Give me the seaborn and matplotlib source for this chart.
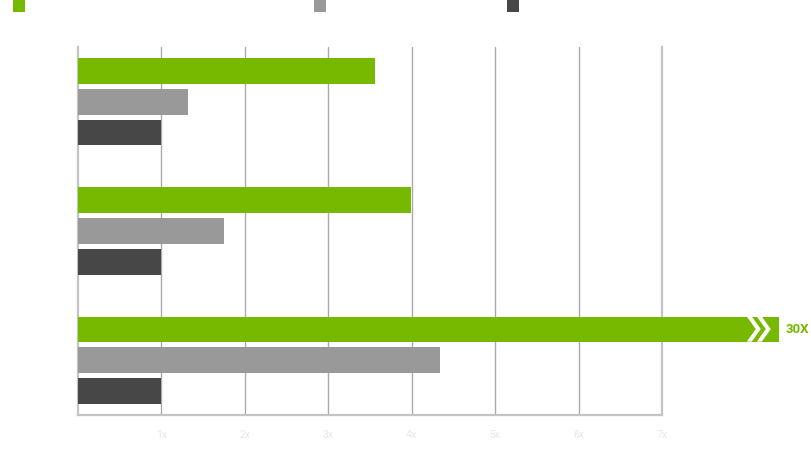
import numpy as np
import pandas as pd
import seaborn as sns
from matplotlib import pyplot as plt
from matplotlib.patches import Rectangle, Polygon

# data
workloads = ["Workload A", "Workload B", "Workload C"]
systems = ["New GPU", "Previous GPU", "Baseline"]
speedup_new = [3.56, 3.99, 30.0]
speedup_prev = [1.32, 1.75, 4.34]
speedup_base = [1.0, 1.0, 1.0]
tick_values = [1, 2, 3, 4, 5, 6, 7]
tick_labels = ["1x", "2x", "3x", "4x", "5x", "6x", "7x"]
big_label = "30X"

# bars longer than this are drawn broken past the axis end
break_at = 8.40

colors = ["#76b900", "#999999", "#474747"]

rows = []
for sys_name, vals in zip(systems, [speedup_new, speedup_prev, speedup_base]):
    for wl, v in zip(workloads, vals):
        rows.append({"workload": wl, "system": sys_name, "speedup": v,
                     "shown": min(v, break_at)})
df = pd.DataFrame(rows)

sns.set_theme(style="white")
plt.rcParams['font.family'] = ['Roboto', 'DejaVu Sans']

fig = plt.figure(figsize=(8.11, 4.72), dpi=100)
ax = fig.add_axes([78 / 811, 57 / 472, 584 / 811, 368 / 472])

sns.barplot(data=df, x="shown", y="workload", hue="system", orient="h",
            hue_order=systems, order=workloads, palette=colors, saturation=1,
            width=0.72, gap=0.19, legend=False, ax=ax, zorder=3)

for p in ax.patches:
    p.set_clip_on(False)
    p.set_linewidth(0)

ax.set_xlim(0, 7)
ax.set_ylim(2.426, -0.426)
ax.set_xticks(tick_values)
ax.set_xticklabels(tick_labels, color="#e8e8e8", fontsize=7.5)
ax.set_yticks([])
ax.set_xlabel("")
ax.set_ylabel("")
ax.tick_params(axis="x", length=0, pad=11)

for x in tick_values[:-1]:
    ax.axvline(x, color="#aaaaaa", linewidth=1, zorder=1)

for side in ["left", "bottom", "right"]:
    ax.spines[side].set_visible(True)
    ax.spines[side].set_color("#c4c4c4")
    ax.spines[side].set_linewidth(1.6)
ax.spines["top"].set_visible(False)

# chevrons and label on the broken bar
px = 7 / 584.0
for wl_i, v in enumerate(speedup_new):
    if v <= break_at:
        continue
    yc = wl_i - 0.72 / 3
    half = 0.72 / 3 * (1 - 0.19) / 2
    end = break_at
    w, d = 5 * px, 9 * px
    for off in [32, 22]:
        x0 = end - off * px
        pts = [(x0, yc - half), (x0 + w, yc - half), (x0 + w + d, yc),
               (x0 + w, yc + half), (x0, yc + half), (x0 + d, yc)]
        ax.add_patch(Polygon(pts, closed=True, facecolor="white",
                             edgecolor="none", clip_on=False, zorder=4))
    ax.text(end + 7 * px, yc, big_label, color="#76b900", fontsize=9.5,
            fontweight="bold", va="center", ha="left", clip_on=False)

# legend swatches, no visible text
legend_x = [13, 314, 507]
for lx, c in zip(legend_x, colors):
    fig.patches.append(Rectangle((lx / 811, 1 - 12 / 472), 12 / 811, 12 / 472,
                                 transform=fig.transFigure, facecolor=c,
                                 edgecolor="none", figure=fig))

fig.savefig("out.png", dpi=100)
